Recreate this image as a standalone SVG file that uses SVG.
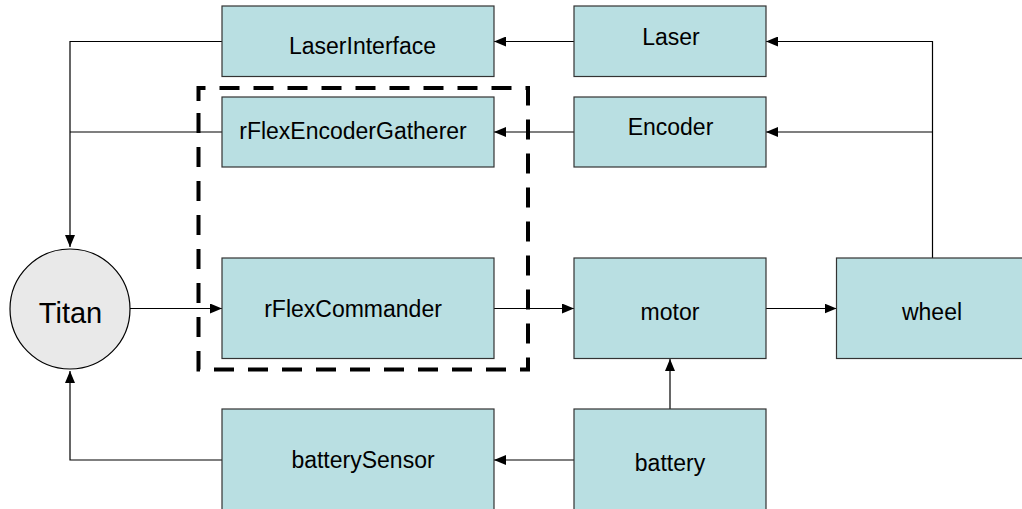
<svg xmlns="http://www.w3.org/2000/svg" width="1022" height="509" viewBox="0 0 1022 509">
  <style>
    .box { fill: #b9dfe2; stroke: #333333; stroke-width: 1.2; }
    .lbl { font-family: "Liberation Sans", Arial, sans-serif; font-size: 23px; fill: #000000; text-anchor: middle; }
    .wire { fill: none; stroke: #000000; stroke-width: 1.2; }
    .group { fill: none; stroke: #000000; stroke-width: 4; stroke-dasharray: 20 14; }
  </style>
  <defs>
    <marker id="arrow" viewBox="0 0 12 10" refX="12" refY="5" markerWidth="12" markerHeight="10" markerUnits="userSpaceOnUse" orient="auto">
      <path d="M0,0 L12,5 L0,10 Z" fill="#000000"/>
    </marker>
  </defs>

  <rect width="1022" height="509" fill="#ffffff"/>

  <!-- connectors -->
  <g id="connectors">
    <path class="wire" d="M222,41.5 H70 V247" marker-end="url(#arrow)"/>
    <path class="wire" d="M222,132 H70"/>
    <path class="wire" d="M574,41.5 H494" marker-end="url(#arrow)"/>
    <path class="wire" d="M574,132 H494" marker-end="url(#arrow)"/>
    <path class="wire" d="M932.5,258 V41.5 H766" marker-end="url(#arrow)"/>
    <path class="wire" d="M932.5,132 H766" marker-end="url(#arrow)"/>
    <path class="wire" d="M130,308.5 H222" marker-end="url(#arrow)"/>
    <path class="wire" d="M494,308.5 H574" marker-end="url(#arrow)"/>
    <path class="wire" d="M766,308.5 H836.5" marker-end="url(#arrow)"/>
    <path class="wire" d="M670,409 V359" marker-end="url(#arrow)"/>
    <path class="wire" d="M574,460 H494" marker-end="url(#arrow)"/>
    <path class="wire" d="M222,460 H70 V371" marker-end="url(#arrow)"/>
  </g>

  <g id="titan">
    <circle cx="70" cy="309" r="60" fill="#e9e9e9" stroke="#000000" stroke-width="1.2"/>
    <text x="70.5" y="323" font-family="Liberation Sans, Arial, sans-serif" font-size="29" text-anchor="middle">Titan</text>
  </g>

  <g id="laserInterface">
    <rect class="box" x="222" y="6" width="272" height="70.5"/>
    <text class="lbl" x="362.5" y="54">LaserInterface</text>
  </g>

  <g id="rFlexEncoderGatherer">
    <rect class="box" x="222" y="97" width="272" height="70"/>
    <text class="lbl" x="353" y="139">rFlexEncoderGatherer</text>
  </g>

  <g id="rFlexCommander">
    <rect class="box" x="222" y="258" width="272" height="100.5"/>
    <text class="lbl" x="353" y="317">rFlexCommander</text>
  </g>

  <g id="batterySensor">
    <rect class="box" x="222" y="409" width="272" height="120"/>
    <text class="lbl" x="363" y="468">batterySensor</text>
  </g>

  <g id="laser">
    <rect class="box" x="574" y="6" width="192" height="70.5"/>
    <text class="lbl" x="671" y="45">Laser</text>
  </g>

  <g id="encoder">
    <rect class="box" x="574" y="97" width="192" height="70"/>
    <text class="lbl" x="670.5" y="135">Encoder</text>
  </g>

  <g id="motor">
    <rect class="box" x="574" y="258" width="192" height="100.5"/>
    <text class="lbl" x="670" y="320">motor</text>
  </g>

  <g id="battery">
    <rect class="box" x="574" y="409" width="192" height="120"/>
    <text class="lbl" x="670" y="471">battery</text>
  </g>

  <g id="wheel">
    <rect class="box" x="836.5" y="258" width="200" height="100.5"/>
    <text class="lbl" x="932" y="320">wheel</text>
  </g>

  <!-- dashed grouping around the rFlex components -->
  <g id="rFlexGroup">
    <path class="group" d="M198.5,101 V88 H528 V369.5 H198.5 V101"/>
  </g>
</svg>
